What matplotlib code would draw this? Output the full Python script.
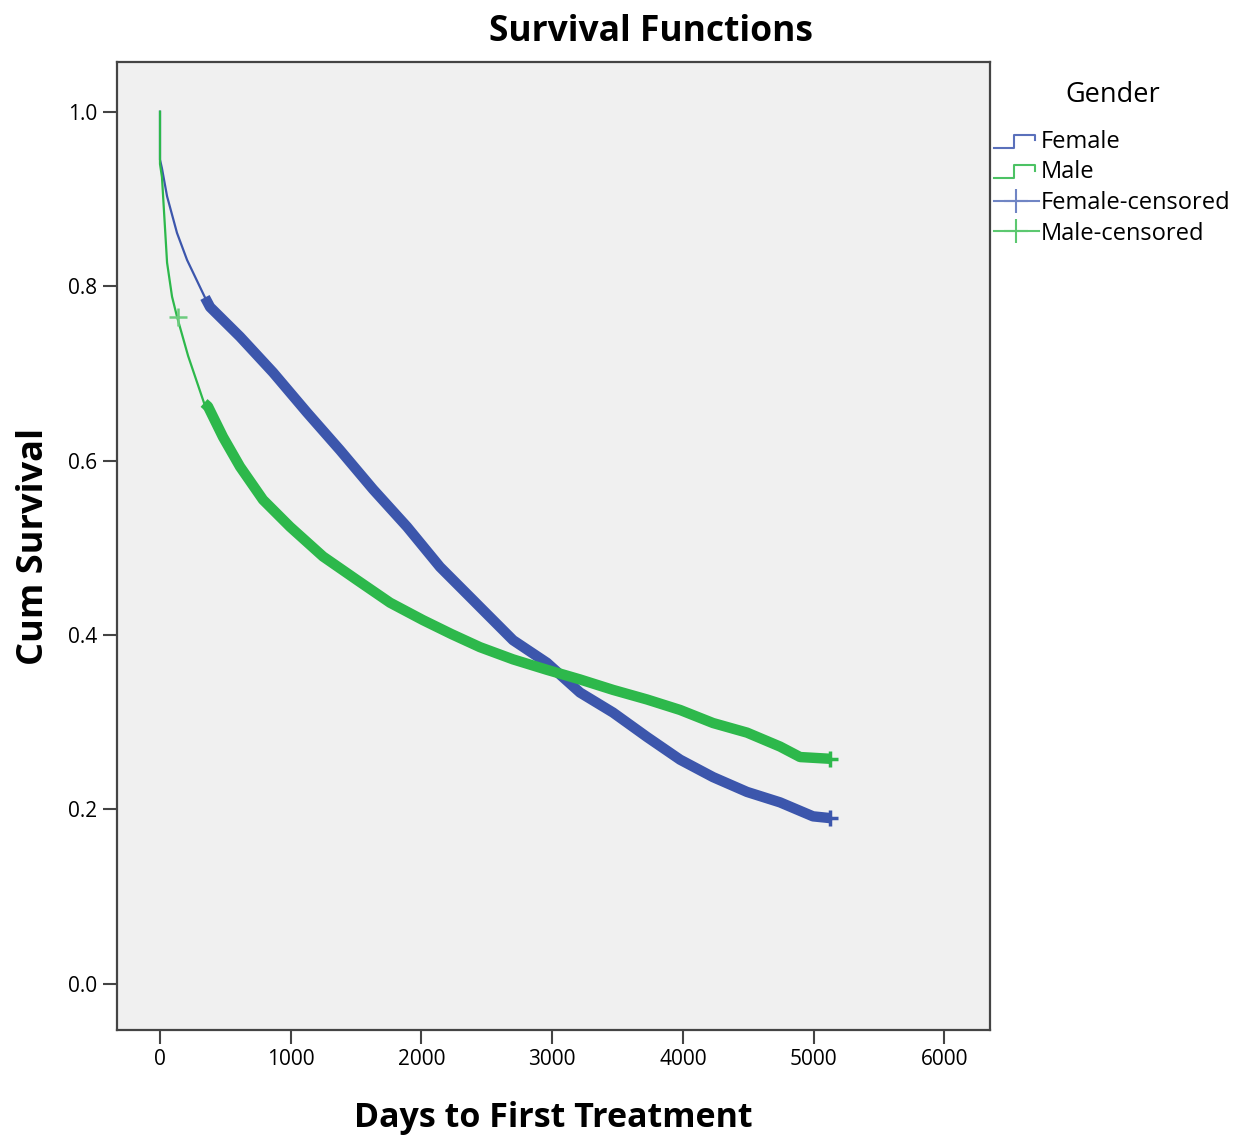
import matplotlib.pyplot as plt
from matplotlib.lines import Line2D
from matplotlib.legend_handler import HandlerBase

# Kaplan-Meier curves (days, cum survival)
female_days = [0, 0, 15, 54, 130, 207, 344, 383, 612, 865, 1125, 1377, 1630, 1890,
               2142, 2395, 2448, 2701, 2961, 3213, 3466, 3726, 3979, 4231, 4491,
               4744, 4996, 5126]
female_surv = [1.0, 0.945, 0.935, 0.903, 0.861, 0.830, 0.787, 0.776, 0.742, 0.701,
               0.655, 0.612, 0.567, 0.524, 0.478, 0.440, 0.432, 0.394, 0.368,
               0.334, 0.311, 0.283, 0.257, 0.237, 0.220, 0.208, 0.192, 0.190]
male_days = [0, 0, 15, 54, 92, 130, 215, 337, 367, 482, 612, 788, 995, 1247, 1507,
             1760, 2012, 2230, 2448, 2701, 2961, 3213, 3466, 3726, 3979, 4231,
             4491, 4744, 4897, 5126]
male_surv = [1.0, 0.94, 0.925, 0.827, 0.788, 0.765, 0.720, 0.666, 0.662, 0.627,
             0.593, 0.555, 0.524, 0.490, 0.463, 0.437, 0.417, 0.401, 0.386,
             0.372, 0.360, 0.349, 0.337, 0.326, 0.314, 0.299, 0.288, 0.272,
             0.260, 0.258]
# censored observations become dense from these days onwards
female_cens_start = 344
male_cens_start = 337
# isolated early censored male case
male_cens_x = [138]
male_cens_y = [0.765]

blue = '#3c56ac'
green = '#2db84b'

plt.rcParams['font.family'] = ['Open Sans', 'DejaVu Sans']

fig = plt.figure(figsize=(12.36, 11.41), dpi=100)
ax = fig.add_axes([117 / 1236, 1 - 1030 / 1141, 873 / 1236, 968 / 1141])
ax.set_facecolor('#f0f0f0')


def draw(days, surv, start, color):
    early = [(d, s) for d, s in zip(days, surv) if d <= start]
    late = [(d, s) for d, s in zip(days, surv) if d >= start]
    ax.plot([p[0] for p in early], [p[1] for p in early], color=color, lw=1.6)
    ax.plot([p[0] for p in late], [p[1] for p in late], color=color, lw=7.5,
            solid_capstyle='butt', solid_joinstyle='round')
    ax.plot([late[-1][0]], [late[-1][1]], marker='+', color=color, ms=12, mew=2.5)


draw(female_days, female_surv, female_cens_start, blue)
draw(male_days, male_surv, male_cens_start, green)
ax.plot(male_cens_x, male_cens_y, '+', color='#6ccb7e', ms=13, mew=1.8)

ax.set_xlim(-329, 6350)
ax.set_ylim(-0.053, 1.057)
ax.set_xticks([0, 1000, 2000, 3000, 4000, 5000, 6000])
ax.set_yticks([0.0, 0.2, 0.4, 0.6, 0.8, 1.0])
ax.set_yticklabels(['0.0', '0.2', '0.4', '0.6', '0.8', '1.0'])
ax.tick_params(direction='out', length=10, width=1.5, color='#444444',
               labelsize=15, pad=4)
for s in ax.spines.values():
    s.set_color('#444444')
    s.set_linewidth(1.6)

fig.text(651 / 1236, 1 - 32 / 1141, 'Survival Functions', fontsize=25.5,
         fontweight='bold', ha='center', va='center')
ax.set_xlabel('Days to First Treatment', fontsize=24.5, fontweight='bold', labelpad=22)
ax.set_ylabel('Cum Survival', fontsize=26, fontweight='bold', labelpad=12)


class StepHandler(HandlerBase):
    def create_artists(self, legend, orig_handle, xdescent, ydescent, width,
                       height, fontsize, trans):
        x0 = -xdescent
        y0 = -ydescent + height * 0.0
        y1 = -ydescent + height * 0.8
        xs = [x0, x0 + 0.45 * width, x0 + 0.45 * width, x0 + 0.92 * width,
              x0 + 0.92 * width]
        ys = [y0, y0, y1, y1, y0 + 0.45 * height]
        line = Line2D(xs, ys, color=orig_handle.get_color(), lw=1.5)
        line.set_transform(trans)
        return [line]


h_f = Line2D([], [], color='#5a70bb')
h_m = Line2D([], [], color='#4cc264')
h_fc = Line2D([], [], color='#7085c4', marker='+', ms=17, mew=1.5, lw=1.5)
h_mc = Line2D([], [], color='#5cc870', marker='+', ms=17, mew=1.5, lw=1.5)
leg = fig.legend([h_f, h_m, h_fc, h_mc],
                 ['Female', 'Male', 'Female-censored', 'Male-censored'],
                 handler_map={h_f: StepHandler(), h_m: StepHandler()},
                 loc='upper left', bbox_to_anchor=(994 / 1236, 1 - 81 / 1141),
                 frameon=False, title='Gender', fontsize=17, title_fontsize=19.5,
                 handlelength=1.9, handletextpad=0.1, labelspacing=0.28,
                 numpoints=1, borderaxespad=0, borderpad=0)
leg._legend_box.sep = 15

fig.savefig('out.png', dpi=100, facecolor='white')
